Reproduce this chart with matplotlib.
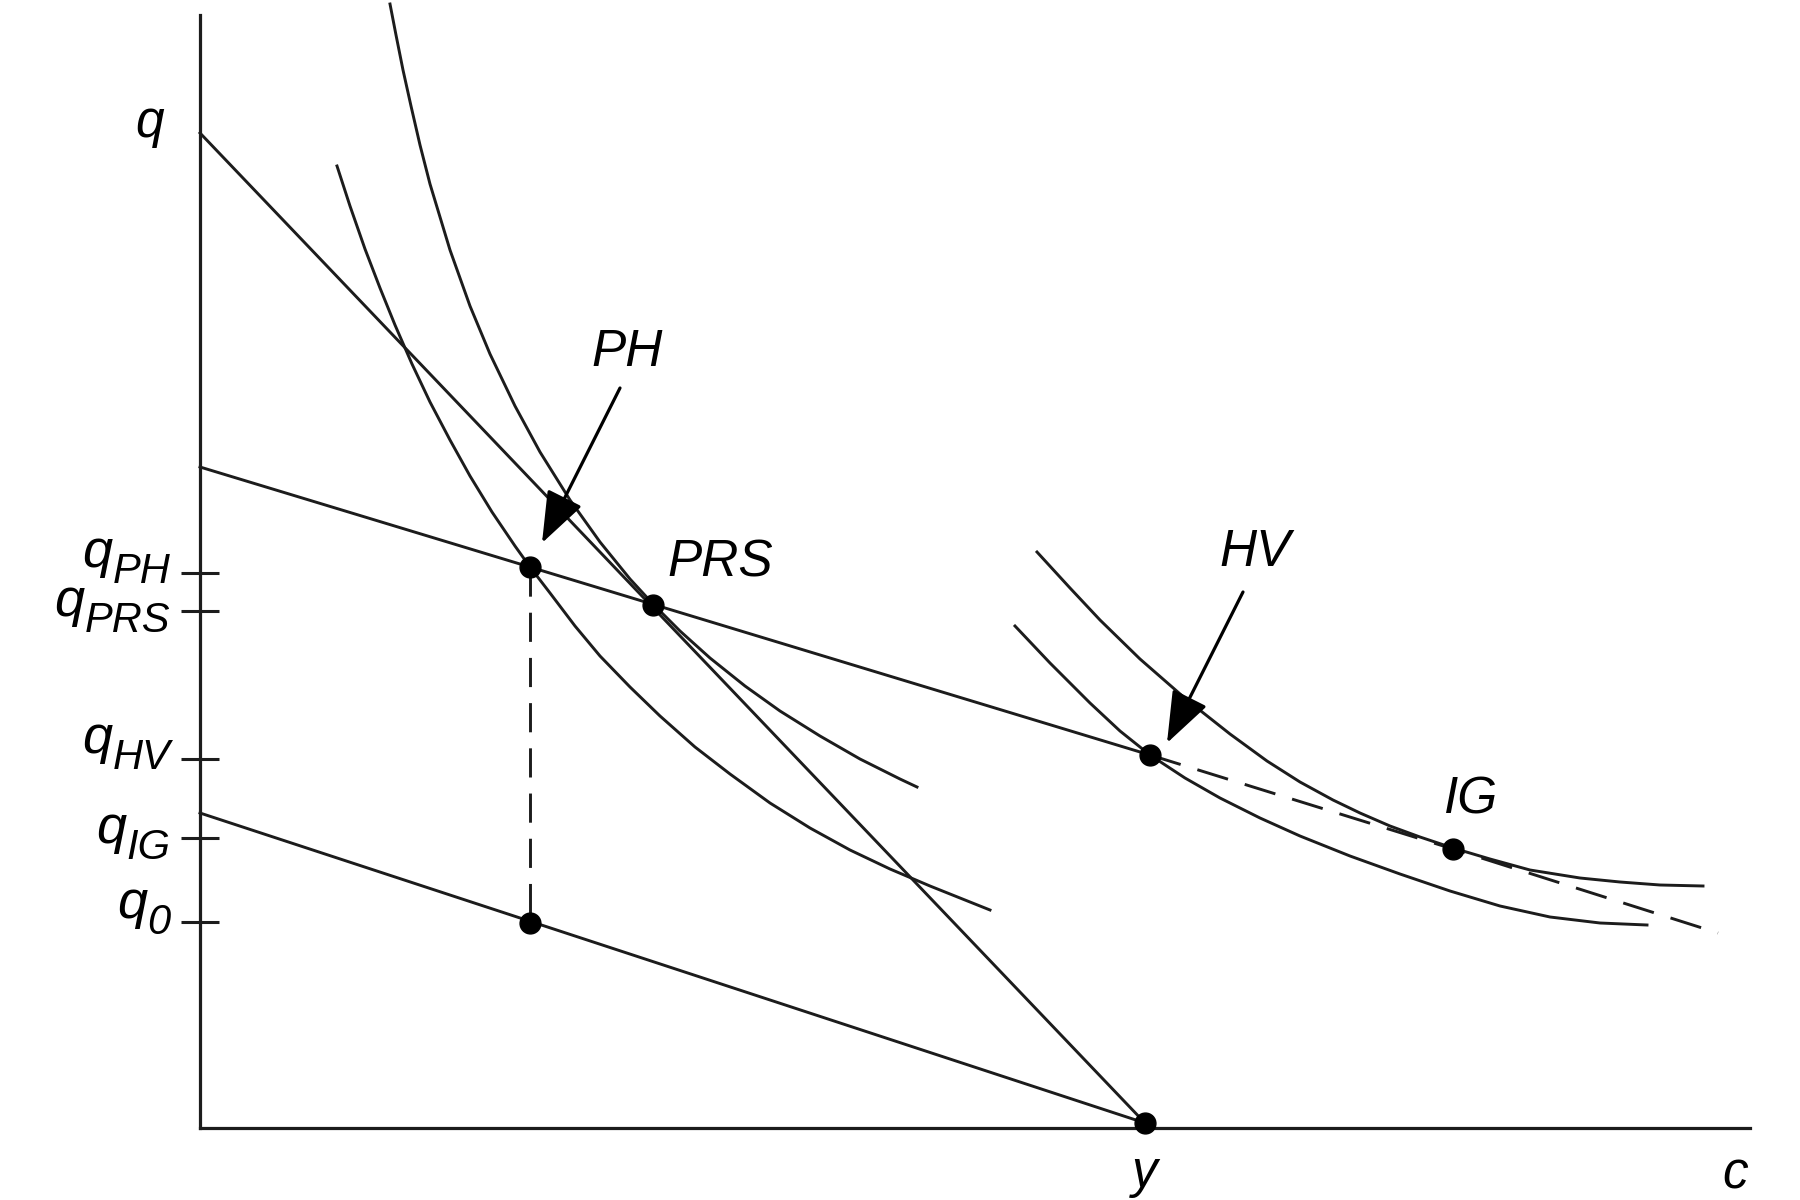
import matplotlib.pyplot as plt

plt.rcParams['font.family'] = ['Liberation Sans', 'DejaVu Sans']

INK = '#1c1c1c'

# budget lines (c on x, q on y)
steep_c = [0, 945]
steep_q = [995, 5]
mid_c = [0, 950]
mid_q = [661, 373]
mid_dash_c = [950, 1253, 1518]
mid_dash_q = [373, 279, 195]
low_c = [0, 945]
low_q = [315, 5]

# indifference curves
ic1_c = [190, 196, 203, 211, 220, 230, 250, 270, 290, 315, 340, 370, 400, 430, 453,
         480, 510, 545, 580, 620, 660, 700, 717]
ic1_q = [1124, 1093, 1058, 1022, 983, 944, 878, 822, 774, 722, 676, 628, 586, 549, 524,
         497, 470, 442, 417, 392, 369, 349, 341]
ic2_c = [137, 150, 165, 180, 195, 212, 230, 250, 270, 292, 315, 330, 350, 375,
         400, 430, 460, 495, 530, 570, 610, 650, 690, 730, 790]
ic2_q = [962, 922, 879, 840, 803, 764, 726, 688, 652, 616, 582, 561, 535, 502,
         472, 441, 412, 381, 354, 325, 300, 278, 259, 242, 218]
ic3_c = [837, 870, 900, 940, 987, 1030, 1067, 1100, 1133, 1160, 1190, 1220, 1253,
         1290, 1330, 1380, 1420, 1460, 1503]
ic3_q = [576, 540, 508, 469, 428, 394, 367, 346, 328, 315, 302, 291, 280,
         269, 258, 250, 246, 243, 242]
ic4_c = [815, 850, 890, 920, 950, 985, 1020, 1060, 1100, 1150, 1200, 1250, 1300,
         1350, 1400, 1447]
ic4_q = [502, 465, 425, 397, 373, 350, 330, 310, 292, 272, 254, 237, 222,
         211, 205, 203]

# marked points: PH, PRS, HV, IG, q0, y
pt_c = [330, 453, 950, 1253, 330, 945]
pt_q = [561, 523, 373, 279, 205, 5]

# tick marks on the q axis and their labels (q + subscript)
tick_q = [555, 517, 369, 290, 206]
tick_sub = ['PH', 'PRS', 'HV', 'IG', '0']
tick_base_q = [561, 512, 375, 285, 210]

fig = plt.figure(figsize=(18, 12), dpi=100)
ax = fig.add_axes([200 / 1800, 72 / 1200, 1550 / 1800, 1113 / 1200])
ax.set_xlim(0, 1550)
ax.set_ylim(0, 1113)
for s in ['top', 'right']:
    ax.spines[s].set_visible(False)
for s in ['left', 'bottom']:
    ax.spines[s].set_linewidth(2.3)
    ax.spines[s].set_color(INK)
ax.set_xticks([])
ax.set_yticks(tick_q)
ax.set_yticklabels([])
ax.tick_params(axis='y', direction='inout', length=27, width=2.2, color=INK)

lw = 2.1
ax.plot(steep_c, steep_q, color=INK, lw=lw, clip_on=False)
ax.plot(mid_c, mid_q, color=INK, lw=lw, clip_on=False)
ax.plot(mid_dash_c, mid_dash_q, color=INK, lw=lw, dashes=(11, 6), clip_on=False)
ax.plot(low_c, low_q, color=INK, lw=lw, clip_on=False)
ax.plot([pt_c[0], pt_c[4]], [pt_q[0], pt_q[4]], color=INK, lw=lw, dashes=(10, 5.5))

for cc, qq in [(ic1_c, ic1_q), (ic2_c, ic2_q), (ic3_c, ic3_q), (ic4_c, ic4_q)]:
    ax.plot(cc, qq, color=INK, lw=lw, clip_on=False, solid_joinstyle='round')

ax.plot(pt_c, pt_q, 'o', color='black', ms=15, clip_on=False, zorder=5)

fs = 37
# axis labels q_X : subscript right-aligned, "q" put just left of it
r = fig.canvas.get_renderer()
inv = ax.transData.inverted()
for sub, qb in zip(tick_sub, tick_base_q):
    t = ax.text(-30, qb - 16, sub, fontsize=30, style='italic', ha='right', va='baseline')
    x0 = inv.transform(t.get_window_extent(r).p0)[0]
    ax.text(x0, qb, 'q', fontsize=39, style='italic', ha='right', va='baseline')

ax.text(-50, 1005, 'q', fontsize=fs, style='italic', ha='center', va='center')
ax.text(945, -45, 'y', fontsize=fs, style='italic', ha='center', va='center')
ax.text(1535, -47, 'c', fontsize=fs, style='italic', ha='center', va='center')

ax.text(427, 775, 'PH', fontsize=fs, style='italic', ha='center', va='center')
ax.text(520, 565, 'PRS', fontsize=fs, style='italic', ha='center', va='center')
ax.text(1055, 575, 'HV', fontsize=fs, style='italic', ha='center', va='center')
ax.text(1271, 328, 'IG', fontsize=fs, style='italic', ha='center', va='center')

arrow = dict(arrowstyle='-|>,head_length=1.6,head_width=0.6', color='black',
             lw=2.3, mutation_scale=20, shrinkA=0, shrinkB=0)
ax.annotate('', xy=(342, 585), xytext=(420, 740), arrowprops=arrow)
ax.annotate('', xy=(967, 385), xytext=(1043, 536), arrowprops=arrow)

fig.savefig('out.png', dpi=100, facecolor='white')
